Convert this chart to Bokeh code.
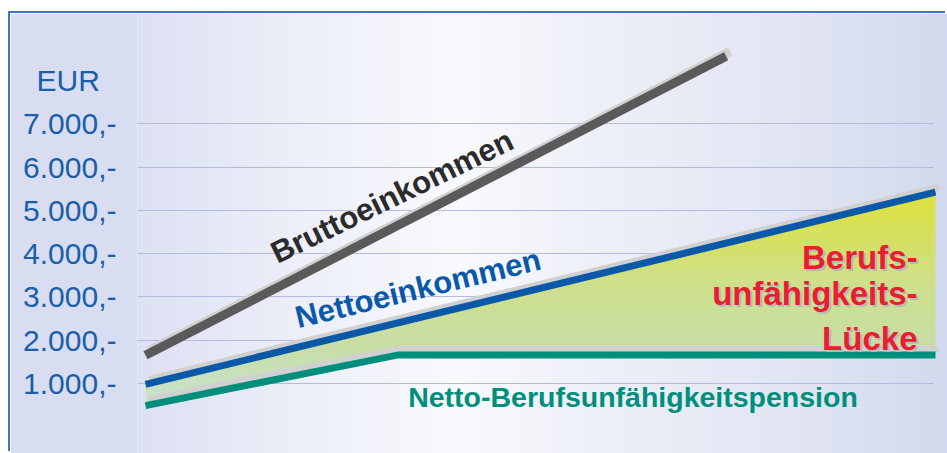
import numpy as np
from bokeh.plotting import figure
from bokeh.layouts import row, column
from bokeh.models import Range1d, FixedTicker, Spacer
from bokeh.core.properties import value
from bokeh.embed import file_html
from bokeh.resources import INLINE

# ---------------- data ----------------
brutto_x = [0, 73.5]
brutto_y = [1650, 8560]
netto_x = [0, 100]
netto_y = [980, 5420]
pension_x = [0, 32, 100]
pension_y = [490, 1660, 1660]
y_ticks = [1000, 2000, 3000, 4000, 5000, 6000, 7000]
y_tick_labels = ["1.000,-", "2.000,-", "3.000,-", "4.000,-", "5.000,-", "6.000,-", "7.000,-"]
unit_tick = 8000
unit_label = "EUR"
brutto_label = "Bruttoeinkommen"
netto_label = "Nettoeinkommen"
pension_label = "Netto-Berufsunfähigkeitspension"
gap_label = ["Berufs-", "unfähigkeits-", "Lücke"]

# ---------------- layout / style ----------------
PX_X = 7.9          # pixels per x unit
PX_Y = 0.04328      # pixels per EUR
X0, X1 = -1.013, 101.52
Y0, Y1 = -617.4, 9549
FONT = "Liberation Sans"
BLUE_TXT = "#1b5fa8"
SHADOW = "#d0d0d0"


def px2x(v):
    return (v - 145) / PX_X


def px2y(v):
    return 1000 + (383 - v) / PX_Y


p = figure(width=937, height=440, output_backend="svg", toolbar_location=None,
           x_range=Range1d(X0, X1), y_range=Range1d(Y0, Y1),
           min_border_left=127, min_border_right=0, min_border_top=0, min_border_bottom=0,
           border_fill_color="#d8ddf1", background_fill_color="#eef0f8",
           outline_line_color=None)
p.styles = {"box-shadow": "-2px -2px 0px 0px #3b78bf"}

p.xaxis.visible = False
p.xgrid.visible = False
ax = p.yaxis[0]
ax.ticker = FixedTicker(ticks=y_ticks + [unit_tick])
overrides = {t: l for t, l in zip(y_ticks, y_tick_labels)}
overrides[unit_tick] = unit_label + "\u00a0\u00a0"
ax.major_label_overrides = overrides
ax.axis_line_color = None
ax.major_tick_line_color = None
ax.minor_tick_line_color = None
ax.major_label_standoff = 15
ax.major_label_text_font = FONT
ax.major_label_text_font_size = "30px"
ax.major_label_text_color = BLUE_TXT
p.ygrid.ticker = FixedTicker(ticks=y_ticks)
p.ygrid.grid_line_color = "#b3bbe2"
p.ygrid.grid_line_width = 1
try:
    p.ygrid.cross_bounds = (X0, px2x(933))
except Exception:
    pass

# background horizontal gradient (styling)
N = 400
px = 137 + (np.arange(N) + 0.5) / N * 810
stops_px = [9, 137, 300, 455, 600, 800, 947]
stops_c = np.array([(211, 217, 239), (221, 225, 243), (237, 239, 249), (249, 250, 254),
                    (238, 240, 248), (225, 229, 243), (211, 217, 238)])
rgb = np.stack([np.interp(px, stops_px, stops_c[:, k]) for k in range(3)], axis=1).astype(np.uint32)
bg = np.zeros((1, N), dtype=np.uint32)
bg[0, :] = (255 << 24) | (rgb[:, 2] << 16) | (rgb[:, 1] << 8) | rgb[:, 0]
p.image_rgba(image=[bg], x=X0, y=Y0, dw=X1 - X0, dh=Y1 - Y0, level="image")

# gap fill gradient between pension and netto (vertical gradient)
nx, ny = 700, 300
vmin, vmax = min(pension_y), max(netto_y)
xs = (np.arange(nx) + 0.5) / nx * (netto_x[-1] - netto_x[0]) + netto_x[0]
vs = (np.arange(ny) + 0.5) / ny * (vmax - vmin) + vmin
lo = np.interp(xs, pension_x, pension_y)
hi = np.interp(xs, netto_x, netto_y)
g_v = [500, 1800, 3300, 4300, 5500]
g_c = np.array([(200, 228, 212), (200, 222, 168), (207, 224, 140), (214, 225, 100), (222, 226, 56)])
cols = np.stack([np.interp(vs, g_v, g_c[:, k]) for k in range(3)], axis=1).astype(np.uint32)
inside = (vs[:, None] >= lo[None, :]) & (vs[:, None] <= hi[None, :])
img = np.zeros((ny, nx), dtype=np.uint32)
colv = (255 << 24) | (cols[:, 2] << 16) | (cols[:, 1] << 8) | cols[:, 0]
img[:] = colv[:, None]
img[~inside] = 0
p.image_rgba(image=[img], x=netto_x[0], y=vmin, dw=netto_x[-1] - netto_x[0], dh=vmax - vmin)


# lines with light "3D" shadow offset up-right
def shadowed(xv, yv, color, width, dxp=4, dyp=5):
    sx = [v + dxp / PX_X for v in xv]
    sy = [v + dyp / PX_Y for v in yv]
    p.line(sx, sy, line_color=SHADOW, line_width=width, line_join="miter")
    p.line(xv, yv, line_color=color, line_width=width, line_join="miter")


shadowed(pension_x, pension_y, "#008f7c", 7, dxp=3, dyp=6)
shadowed(netto_x, netto_y, "#0a59a8", 7)
shadowed(brutto_x, brutto_y, "#5a5a5a", 9)

# labels
p.text(x=[px2x(391.5)], y=[px2y(196)], text=[brutto_label], angle=np.deg2rad(26.0),
       text_font=value(FONT), text_font_size=value("31px"), text_font_style="bold",
       text_color="#2b2b2b", text_align="center", text_baseline="alphabetic")
p.text(x=[px2x(417.5)], y=[px2y(288)], text=[netto_label], angle=np.deg2rad(13.6),
       text_font=value(FONT), text_font_size=value("31px"), text_font_style="bold",
       text_color="#0a59a8", text_align="center", text_baseline="alphabetic")
p.text(x=[px2x(632.5)], y=[px2y(396.5)], text=[pension_label],
       text_font=value(FONT), text_font_size=value("28.5px"), text_font_style="bold",
       text_color="#008f7c", text_align="center", text_baseline="alphabetic")

gap_y = [px2y(257), px2y(293), px2y(338)]
gx = [px2x(917)] * 3
p.text(x=[v + 2 / PX_X for v in gx], y=[v - 2 / PX_Y for v in gap_y], text=gap_label,
       text_font=value(FONT), text_font_size=value("33px"), text_font_style="bold",
       text_color="#b9b9b9", text_align="right", text_baseline="alphabetic")
p.text(x=gx, y=gap_y, text=gap_label,
       text_font=value(FONT), text_font_size=value("33px"), text_font_style="bold",
       text_color="#e8202e", text_align="right", text_baseline="alphabetic")

layout = row(Spacer(width=10, height=453), column(Spacer(width=937, height=13), p))
open("out.html", "w").write(file_html(layout, INLINE))
